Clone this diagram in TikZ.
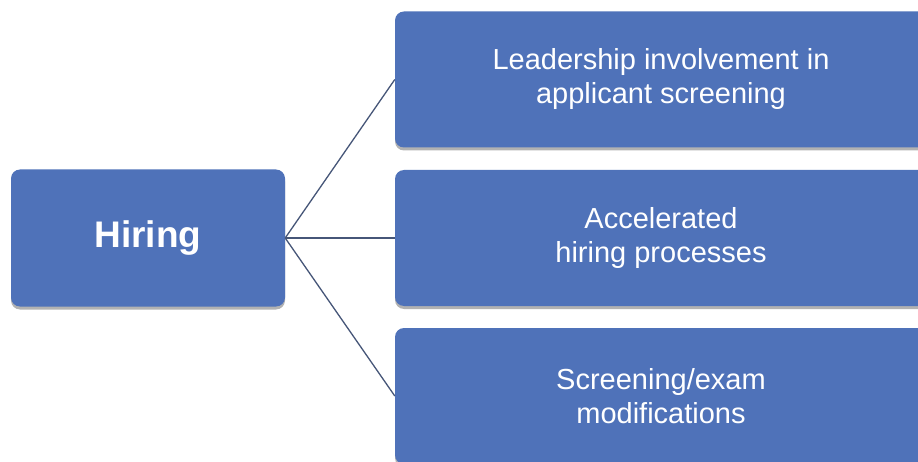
\documentclass[tikz,border=0pt]{standalone}
\usepackage{fontspec}
\setmainfont{Liberation Sans}
\usetikzlibrary{shadows}
\definecolor{cardblue}{RGB}{79,114,185}
\definecolor{linkslate}{RGB}{70,86,120}

\begin{document}
\begin{tikzpicture}[x=1pt,y=1pt,
    card/.style={fill=cardblue,rounded corners=9pt,text=white,align=center,inner sep=0pt,
      drop shadow={shadow xshift=0pt,shadow yshift=-3pt,opacity=0.3,fill=black}},
    link/.style={draw=linkslate,line width=1.3pt}]
    \pgfmathsetmacro{\rootwidth}{274}
    \pgfmathsetmacro{\rootheight}{137}
    \pgfmathsetmacro{\leafwidth}{532}
    \pgfmathsetmacro{\leafheight}{136}
    \providecommand{\rootfontsize}{\fontsize{37pt}{42pt}\selectfont\bfseries}
    \providecommand{\leaffontsize}{\fontsize{29pt}{34pt}\selectfont}
    \clip (0,0) rectangle (918,461);
    \fill[white] (0,0) rectangle (918,461);
    \node[card,font=\rootfontsize,minimum width=\rootwidth pt,minimum height=\rootheight pt] (hiring) at (148,223) {Hiring};
    \node[card,font=\leaffontsize,minimum width=\leafwidth pt,minimum height=\leafheight pt] (leadership) at (661,381.5)
      {Leadership involvement in\\applicant screening};
    \node[card,font=\leaffontsize,minimum width=\leafwidth pt,minimum height=\leafheight pt] (accelerated) at (661,223)
      {Accelerated\\hiring processes};
    \node[card,font=\leaffontsize,minimum width=\leafwidth pt,minimum height=\leafheight pt] (screening) at (661,65)
      {Screening/exam\\modifications};
    \draw[link] (hiring.east) -- (leadership.west);
    \draw[link] (hiring.east) -- (accelerated.west);
    \draw[link] (hiring.east) -- (screening.west);
\end{tikzpicture}
\end{document}
